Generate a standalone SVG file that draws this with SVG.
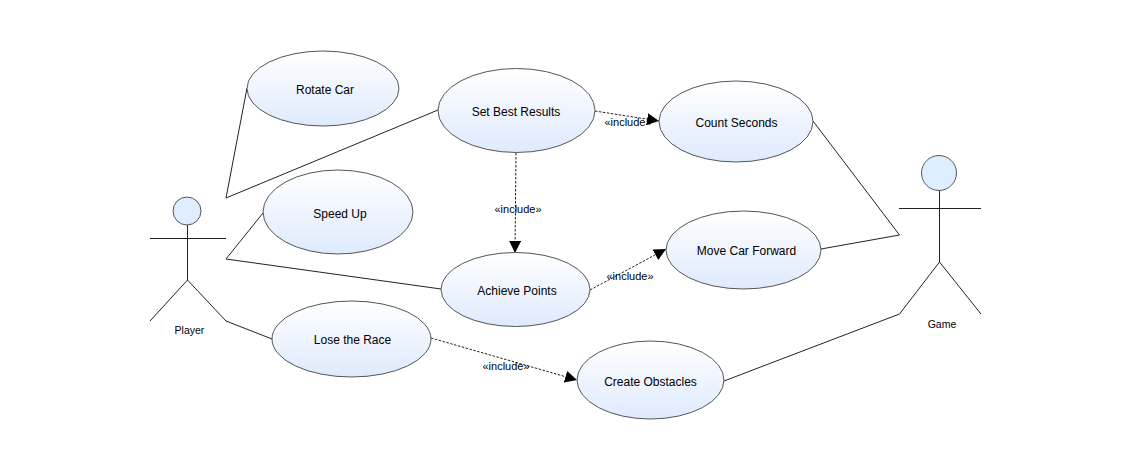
<svg xmlns="http://www.w3.org/2000/svg" width="1130" height="470" viewBox="0 0 1130 470">
<style>
text{font-family:"Liberation Sans",Arial,sans-serif;font-size:12px;fill:#000;text-anchor:middle}
.a{font-size:10.5px}
.i{font-size:11px}
.u{fill:url(#g);stroke:#555;stroke-width:1}
.l{fill:none;stroke:#222;stroke-width:1}
.d{fill:none;stroke:#222;stroke-width:1;stroke-dasharray:2.500 1.500;marker-end:url(#m)}
.h{fill:#deedff;stroke:#555;stroke-width:1}
</style>
<defs>
<linearGradient id="g" x1="0" y1="0" x2="0" y2="1"><stop offset="0" stop-color="#fff"/><stop offset="1" stop-color="#deeafd"/></linearGradient>
<marker id="m" markerUnits="userSpaceOnUse" markerWidth="13" markerHeight="12" refX="12" refY="6" orient="auto"><path d="M0 0L12 6L0 12Z" fill="#000"/></marker>
</defs>
<rect width="1130" height="470" fill="#fff"/>
<g id="connectors">
<path class="l" d="M247 88L226 198L438 110"/>
<path class="l" d="M263 213L226 259L441 289"/>
<path class="l" d="M226 321L272 339"/>
<path class="l" d="M813 121L899.500 235L821 249"/>
<path class="l" d="M724 381L899.500 314"/>
<path class="d" d="M595 111L659 121"/>
<path class="d" d="M516 153L515 253"/>
<path class="d" d="M590 290L666 249"/>
<path class="d" d="M431 338L577 380"/>
<text class="i" x="628" y="126">«include»</text>
<text class="i" x="518" y="213">«include»</text>
<text class="i" x="630" y="280">«include»</text>
<text class="i" x="506" y="370">«include»</text>
</g>
<g id="player"><path class="l" d="M187.500 225V280M150 238.500H226M150 321L187.500 280L226 321"/><circle class="h" cx="187" cy="211" r="14"/><text class="a" x="189.500" y="334">Player</text></g>
<g id="game"><path class="l" d="M939.500 190V262M899 208.500H981M899.500 314L939.500 262L981 314"/><circle class="h" cx="939" cy="173" r="17.500"/><text class="a" x="942" y="328">Game</text></g>
<g id="rotate-car"><ellipse class="u" cx="323" cy="88.500" rx="76" ry="37.500"/><text x="325" y="94">Rotate Car</text></g>
<g id="set-best-results"><ellipse class="u" cx="516.500" cy="110.500" rx="78.500" ry="42"/><text x="516" y="116">Set Best Results</text></g>
<g id="count-seconds"><ellipse class="u" cx="736" cy="121.500" rx="77" ry="40.500"/><text x="736.500" y="127">Count Seconds</text></g>
<g id="speed-up"><ellipse class="u" cx="338" cy="212" rx="75" ry="42"/><text x="340" y="218">Speed Up</text></g>
<g id="move-car-forward"><ellipse class="u" cx="743.500" cy="250" rx="77.500" ry="39"/><text x="746.500" y="255">Move Car Forward</text></g>
<g id="achieve-points"><ellipse class="u" cx="515.500" cy="289.500" rx="74.500" ry="37"/><text x="517" y="295">Achieve Points</text></g>
<g id="lose-the-race"><ellipse class="u" cx="351.500" cy="339" rx="79.500" ry="38"/><text x="352.500" y="344">Lose the Race</text></g>
<g id="create-obstacles"><ellipse class="u" cx="650.500" cy="380" rx="73.500" ry="39"/><text x="650.500" y="386">Create Obstacles</text></g>
</svg>
